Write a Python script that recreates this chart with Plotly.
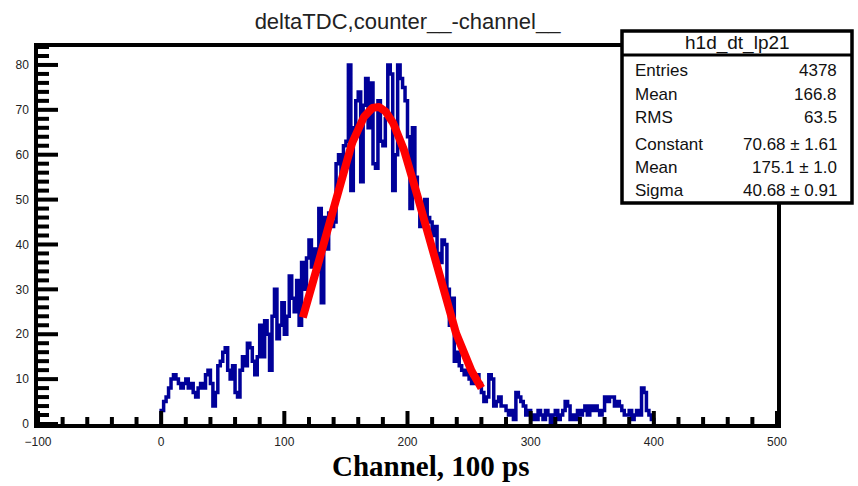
import numpy as np
import plotly.graph_objects as go

# ---------------- data ----------------
TITLE = "deltaTDC,counter__-channel__"
X_TITLE = "Channel, 100 ps"
HIST_NAME = "h1d_dt_lp21"

AXIS_MIN, AXIS_MAX = -100, 500
BIN_WIDTH = 2
DATA_START = 0
Y_MAX = 84

# counts per 2-channel bin, channels 0 .. 398
counts = [
    3, 5, 6, 8, 10, 11, 10, 9, 8, 9,
    10, 8, 9, 7, 6, 8, 9, 8, 11, 12,
    9, 4, 7, 13, 14, 16, 17, 12, 10, 13,
    7, 6, 12, 15, 13, 18, 17, 14, 11, 15,
    22, 15, 23, 20, 12, 24, 30, 19, 22, 27,
    20, 24, 33, 28, 25, 32, 22, 36, 30, 37,
    41, 35, 39, 34, 48, 27, 46, 39, 47, 44,
    45, 58, 60, 56, 62, 63, 80, 52, 66, 72,
    74, 54, 71, 77, 66, 76, 58, 57, 72, 63,
    62, 68, 80, 78, 52, 60, 80, 77, 75, 72,
    64, 48, 66, 55, 50, 44, 47, 50, 46, 45,
    42, 44, 38, 36, 41, 40, 30, 22, 28, 14,
    16, 13, 12, 11, 12, 10, 9, 10, 11, 9,
    7, 5, 6, 11, 10, 4, 5, 6, 4, 4,
    3, 2, 3, 1, 7, 6, 5, 4, 2, 3,
    1, 2, 1, 3, 2, 1, 3, 2, 0, 2,
    3, 1, 2, 3, 5, 4, 1, 2, 1, 3,
    2, 3, 4, 2, 4, 3, 4, 3, 2, 3,
    6, 5, 6, 6, 4, 5, 4, 3, 2, 2,
    3, 1, 2, 3, 2, 8, 7, 3, 2, 1,
]

# fit result (gaussian)
FIT_CONSTANT = 70.68
FIT_MEAN = 175.1
FIT_SIGMA = 40.68
FIT_RANGE = (115, 260)

stats_labels = ["Entries", "Mean", "RMS", "Constant", "Mean", "Sigma"]
stats_values = ["4378", "166.8", "63.5", "70.68 ± 1.61", "175.1 ± 1.0", "40.68 ± 0.91"]

X_MAJOR, X_MINOR = 100, 20
Y_MAJOR, Y_MINOR = 10, 2

# ---------------- build step outline ----------------
edges = DATA_START + BIN_WIDTH * np.arange(len(counts) + 1)
step_x = np.concatenate([[edges[0]], edges])
step_y = np.concatenate([[0], counts, [0]])

fx = np.linspace(FIT_RANGE[0], FIT_RANGE[1], 300)
fy = FIT_CONSTANT * np.exp(-0.5 * ((fx - FIT_MEAN) / FIT_SIGMA) ** 2)

# ---------------- layout geometry (pixels) ----------------
W, H = 858, 486
L, R, T, B = 38, 777, 47, 424
PW, PH = R - L, B - T


def px(p):
    return (p - L) / PW


def py(p):
    return (B - p) / PH


fig = go.Figure()
fig.add_trace(go.Scatter(x=step_x, y=step_y, mode="lines", line_shape="hv",
                         line=dict(color="#000099", width=3.5), hoverinfo="skip"))
fig.add_trace(go.Scatter(x=fx, y=fy, mode="lines",
                         line=dict(color="#ff0000", width=8), hoverinfo="skip"))

tick_font = dict(family="Liberation Sans, Arial, sans-serif", size=12, color="#222")

fig.update_layout(
    width=W, height=H,
    margin=dict(l=L, r=W - R, t=T, b=H - B),
    paper_bgcolor="white", plot_bgcolor="white",
    showlegend=False,
    title=dict(text=TITLE, x=0.5, xref="paper", xanchor="center",
               y=1 - 21 / H, yref="container", yanchor="middle",
               font=dict(family="Liberation Sans, Arial, sans-serif", size=22, color="#222")),
    xaxis=dict(range=[AXIS_MIN, AXIS_MAX], showgrid=False, zeroline=False,
               showline=True, linecolor="black", linewidth=3.5, mirror=True,
               ticks="", dtick=X_MAJOR, tick0=0, tickfont=tick_font, ticklabelstandoff=4),
    yaxis=dict(range=[0, Y_MAX], showgrid=False, zeroline=False,
               showline=True, linecolor="black", linewidth=3.5, mirror=True,
               ticks="", dtick=Y_MAJOR, tick0=0, tickfont=tick_font, ticklabelstandoff=3),
)

# tick marks (inside, ROOT style)
tick_style = dict(color="#000000", width=4)
for v in np.arange(AXIS_MIN, AXIS_MAX + 1, X_MINOR):
    ln = 13 if v % X_MAJOR == 0 else 7
    fig.add_shape(type="line", xref="x", yref="paper", x0=v, x1=v, y0=0, y1=ln / PH,
                  line=tick_style, layer="above")
for v in np.arange(0, Y_MAX + 0.01, Y_MINOR):
    ln = 20 if v % Y_MAJOR == 0 else 11
    fig.add_shape(type="line", xref="paper", yref="y", x0=0, x1=ln / PW, y0=v, y1=v,
                  line=tick_style, layer="above")

# x-axis title
fig.add_annotation(text="<b>" + X_TITLE + "</b>", xref="paper", yref="paper",
                   x=px(430), y=py(466), xanchor="center", yanchor="middle",
                   showarrow=False,
                   font=dict(family="Liberation Serif, Times New Roman, serif", size=29, color="black"))

# stats box
bx0, bx1, by0, by1 = 622, 852, 31, 203
fig.add_shape(type="rect", xref="paper", yref="paper",
              x0=px(bx0), x1=px(bx1), y0=py(by1), y1=py(by0),
              line=dict(color="black", width=3.5), fillcolor="white", layer="above")
fig.add_shape(type="line", xref="paper", yref="paper",
              x0=px(bx0), x1=px(bx1), y0=py(55), y1=py(55),
              line=dict(color="black", width=3), layer="above")
box_font = dict(family="Liberation Sans, Arial, sans-serif", size=17, color="#111")
fig.add_annotation(text=HIST_NAME, xref="paper", yref="paper",
                   x=px((bx0 + bx1) / 2), y=py(43), xanchor="center", yanchor="middle",
                   showarrow=False,
                   font=dict(family="Liberation Sans, Arial, sans-serif", size=19, color="#111"))
rows_y = [70, 94, 118, 144, 167, 190]
for lab, val, ry in zip(stats_labels, stats_values, rows_y):
    fig.add_annotation(text=lab, xref="paper", yref="paper", x=px(633), y=py(ry),
                       xanchor="left", yanchor="middle", showarrow=False, font=box_font)
    fig.add_annotation(text=val, xref="paper", yref="paper", x=px(839), y=py(ry),
                       xanchor="right", yanchor="middle", showarrow=False, font=box_font)

fig.write_html("out.html")
